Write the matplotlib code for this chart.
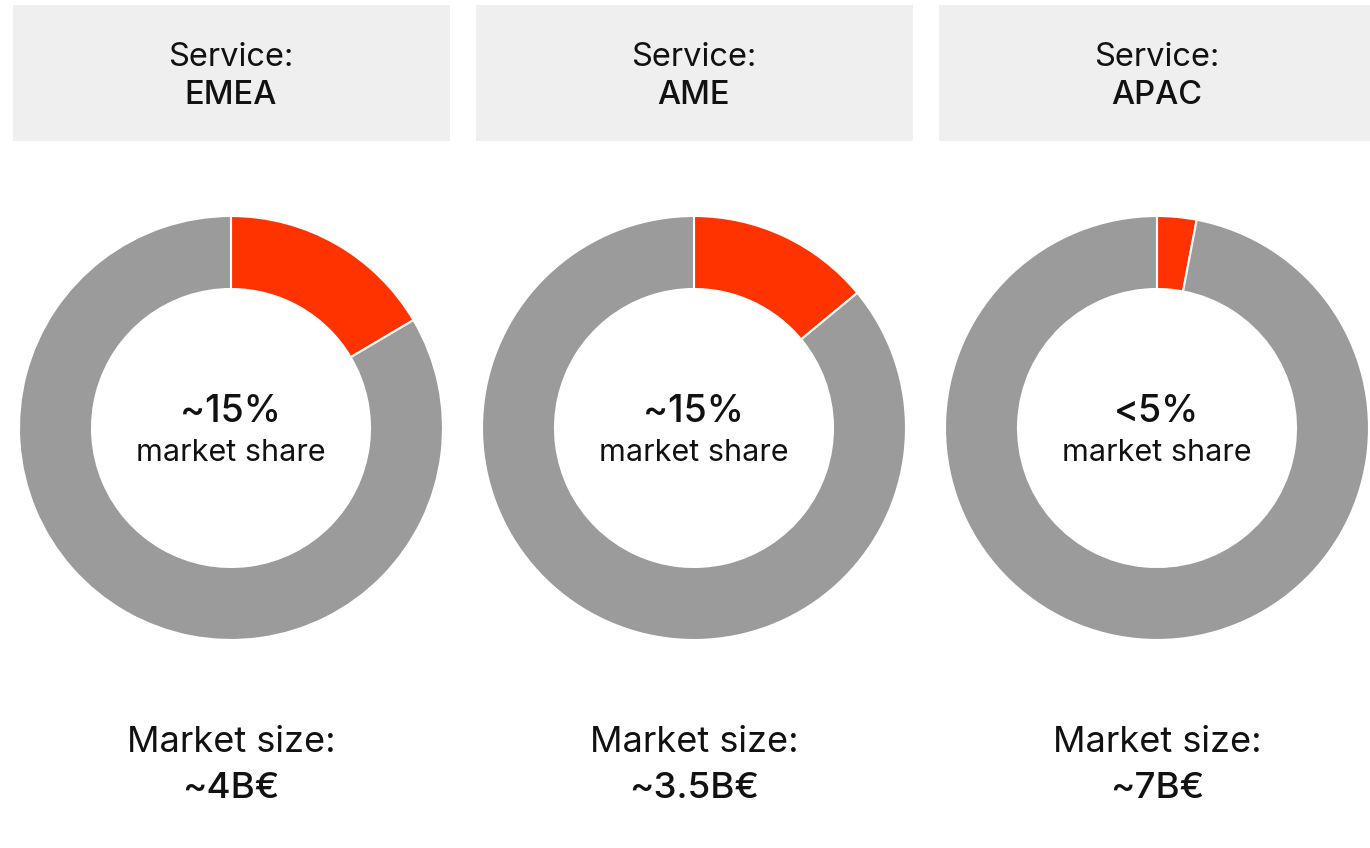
import matplotlib.pyplot as plt
from matplotlib.patches import Rectangle

plt.rcParams['font.family'] = ['Inter', 'DejaVu Sans']

regions = ['EMEA', 'AME', 'APAC']
share = [16.5, 14.0, 3.0]          # % of the ring drawn in red
share_labels = ['~15%', '~15%', '<5%']
size_labels = ['~4B€', '~3.5B€', '~7B€']

red = '#ff3300'
grey = '#9b9b9b'
box = '#efefef'

W, H = 1370, 848
fig = plt.figure(figsize=(W / 100, H / 100), dpi=100)

# background axes in pixel units for boxes and labels
bg = fig.add_axes([0, 0, 1, 1])
bg.set_xlim(0, W)
bg.set_ylim(H, 0)
bg.axis('off')

centers = [231, 694, 1157]
cy = 428
r_px = 212

for i, reg in enumerate(regions):
    cx = centers[i]
    bg.add_patch(Rectangle((cx - 218, 5), 437, 136, color=box, lw=0))
    bg.text(cx, 57, 'Service:', ha='center', va='center', fontsize=23.5, color='#111111')
    bg.text(cx, 96, reg, ha='center', va='center', fontsize=23.5, fontweight='medium', color='#111111')

    ax = fig.add_axes([(cx - r_px) / W, 1 - (cy + r_px) / H, 2 * r_px / W, 2 * r_px / H])
    ax.pie([share[i], 100 - share[i]], colors=[red, grey], startangle=90, counterclock=False,
           radius=1, wedgeprops=dict(width=73 / r_px, edgecolor='white', linewidth=1.5))
    ax.set_xlim(-1, 1)
    ax.set_ylim(-1, 1)
    ax.set_aspect('equal')
    ax.axis('off')

    bg.text(cx, 412, share_labels[i], ha='center', va='center', fontsize=27, fontweight='medium', color='#111111')
    bg.text(cx, 453, 'market share', ha='center', va='center', fontsize=22, color='#111111')

    bg.text(cx, 743, 'Market size:', ha='center', va='center', fontsize=26, color='#111111')
    bg.text(cx, 788, size_labels[i], ha='center', va='center', fontsize=26.5, fontweight='medium', color='#111111')

fig.savefig('out.png', dpi=100)
